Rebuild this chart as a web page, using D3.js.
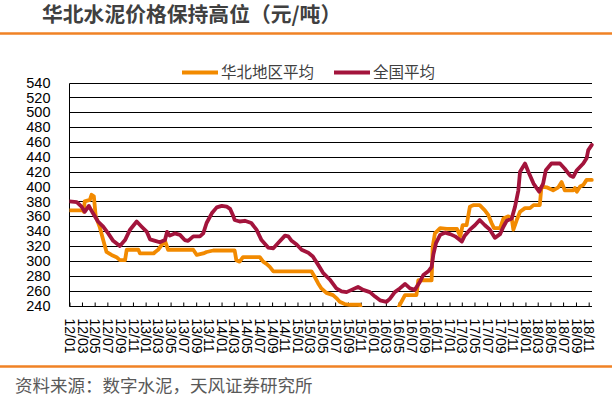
<!DOCTYPE html>
<html><head><meta charset="utf-8">
<script src="https://cdn.jsdelivr.net/npm/d3@7"></script>
<style>body{margin:0;background:#fff}</style>
</head><body><svg id="c" width="612" height="401"></svg>
<script>
const titleText = "华北水泥价格保持高位（元/吨）";
const sourceText = "资料来源：数字水泥，天风证券研究所";
const seriesNames = ["华北地区平均", "全国平均"];
const yTicks = [240,260,280,300,320,340,360,380,400,420,440,460,480,500,520,540];

const northDates = ["2012-01-01","2012-03-06","2012-03-10","2012-03-14","2012-04-08","2012-04-16","2012-04-27","2012-05-06","2012-05-25","2012-06-11","2012-06-27","2012-07-21","2012-08-14","2012-08-30","2012-09-24","2012-10-02","2012-11-27","2012-12-05","2013-02-08","2013-02-16","2013-03-02","2013-03-18","2013-04-04","2013-04-19","2013-08-18","2013-09-04","2013-10-05","2013-10-21","2013-11-22","2014-03-05","2014-03-13","2014-03-29","2014-04-14","2014-07-04","2014-07-20","2014-08-05","2014-08-21","2014-09-07","2015-03-09","2015-03-24","2015-04-10","2015-04-26","2015-05-20","2015-06-21","2015-07-07","2015-07-23","2015-08-16","2015-09-10","2015-10-28","2015-11-07","2016-04-23","2016-05-07","2016-06-01","2016-07-26","2016-08-04","2016-10-07","2016-10-12","2016-10-23","2016-11-17","2016-12-19","2017-02-06","2017-02-22","2017-03-05","2017-03-24","2017-04-09","2017-04-25","2017-05-26","2017-06-20","2017-07-06","2017-07-22","2017-08-03","2017-09-01","2017-09-17","2017-10-11","2017-10-27","2017-11-04","2017-11-20","2017-12-06","2017-12-30","2018-01-23","2018-02-09","2018-03-11","2018-03-19","2018-04-13","2018-05-14","2018-06-08","2018-06-24","2018-07-09","2018-08-19","2018-08-27","2018-09-05","2018-09-21","2018-10-06","2018-10-22","2018-11-16"];
const northValues = [368,368,366,380,382,389,387,360,346,328,312,308,305,301,301,315,315,310,310,312,315,321,327,315,315,308,310,312,314,314,301,299,305,305,299,296,292,286,286,279,270,263,257,254,250,245,242,241,241,232,232,241,254,254,274,274,319,337,344,343,343,333,348,348,373,375,375,368,362,351,344,344,357,360,357,342,355,366,371,371,375,375,400,399,395,399,406,395,395,398,393,400,402,409,409];

const nationDates = ["2012-01-01","2012-02-05","2012-02-28","2012-03-14","2012-04-03","2012-04-23","2012-05-17","2012-06-11","2012-07-05","2012-07-29","2012-08-30","2012-09-24","2012-10-18","2012-11-19","2012-12-13","2013-01-07","2013-01-22","2013-02-16","2013-03-10","2013-04-04","2013-04-14","2013-04-27","2013-05-21","2013-06-15","2013-07-08","2013-07-24","2013-08-18","2013-09-19","2013-10-05","2013-10-21","2013-11-15","2013-12-09","2014-01-02","2014-01-26","2014-02-11","2014-02-27","2014-03-05","2014-03-29","2014-04-23","2014-05-24","2014-06-18","2014-07-12","2014-08-13","2014-09-07","2014-09-30","2014-11-02","2014-11-18","2014-12-04","2014-12-28","2015-01-21","2015-02-22","2015-03-16","2015-04-10","2015-05-04","2015-06-05","2015-07-07","2015-08-01","2015-08-25","2015-09-18","2015-10-19","2015-11-13","2015-12-15","2016-01-09","2016-02-02","2016-03-04","2016-03-20","2016-04-13","2016-05-07","2016-06-01","2016-06-25","2016-07-18","2016-08-12","2016-08-28","2016-09-21","2016-10-07","2016-10-15","2016-10-28","2016-11-17","2016-12-10","2017-01-04","2017-01-28","2017-03-01","2017-03-15","2017-04-09","2017-05-03","2017-05-26","2017-06-20","2017-07-14","2017-08-07","2017-09-01","2017-09-17","2017-10-03","2017-10-27","2017-11-12","2017-11-28","2017-12-06","2017-12-30","2018-01-15","2018-02-09","2018-03-08","2018-03-27","2018-04-09","2018-05-06","2018-06-16","2018-07-09","2018-08-03","2018-08-19","2018-09-05","2018-10-06","2018-10-22","2018-10-30","2018-11-16"];
const nationValues = [380,379,373,366,374,364,353,346,337,327,320,328,342,353,346,339,329,327,325,328,339,334,337,335,328,327,333,333,337,351,364,372,374,373,370,360,355,353,354,351,342,328,318,317,324,334,333,327,322,315,311,306,295,284,275,263,259,258,261,265,261,258,252,247,245,249,258,263,269,263,261,272,281,286,292,308,324,335,338,336,333,326,334,342,348,355,348,342,331,336,346,354,357,373,395,420,431,420,404,393,404,422,431,431,424,415,413,422,431,438,449,456];

const colors = ["#F28A00", "#A3143C"];
const parse = d3.timeParse("%Y-%m-%d");
const svg = d3.select("#c");
const cjk = "'Noto Sans CJK SC', 'Noto Sans', sans-serif";
const num = "'Liberation Sans', Arial, sans-serif";

// header / footer
svg.append("text").attr("x", 42).attr("y", 22).text(titleText)
  .attr("font-family", cjk).attr("font-size", 20.8).attr("font-weight", "bold").attr("fill", "#404040");
svg.append("line").attr("x1", 0).attr("x2", 612).attr("y1", 33.5).attr("y2", 33.5)
  .attr("stroke", "#F08225").attr("stroke-width", 2.5);
svg.append("line").attr("x1", 0).attr("x2", 612).attr("y1", 366.5).attr("y2", 366.5)
  .attr("stroke", "#F08225").attr("stroke-width", 2.5);
svg.append("text").attr("x", 15).attr("y", 392).text(sourceText)
  .attr("font-family", cjk).attr("font-size", 17.5).attr("fill", "#595959");

const pL = 69.5, pR = 592, pT = 82.5, pB = 305.5;
const x = d3.scaleTime().domain([parse("2012-01-01"), parse("2018-11-17")]).range([pL, pR]);
const y = d3.scaleLinear().domain([240, 540]).range([pB, pT]);

// gridlines
svg.append("g").selectAll("line").data(yTicks).join("line")
  .attr("x1", pL).attr("x2", pR)
  .attr("y1", d => Math.round(y(d)) + 0.5).attr("y2", d => Math.round(y(d)) + 0.5)
  .attr("stroke", "#000").attr("stroke-width", 1);
svg.append("line").attr("x1", pL).attr("x2", pL).attr("y1", Math.round(y(540)) + 0.5).attr("y2", Math.round(y(240)) + 0.5)
  .attr("stroke", "#000").attr("stroke-width", 1);

// y labels
const yAxis = svg.append("g").attr("transform", `translate(${pL},0)`)
  .call(d3.axisLeft(y).tickValues(yTicks).tickSize(0).tickPadding(19).tickFormat(d3.format("d")));
yAxis.select(".domain").remove();
yAxis.selectAll("text").attr("font-family", num).attr("font-size", 14.5).attr("fill", "#000");

// x axis
const xTicks = d3.timeMonth.every(2).range(parse("2012-01-01"), parse("2018-11-02"));
const xAxis = svg.append("g").attr("transform", `translate(0,${Math.round(y(240)) + 0.5})`)
  .call(d3.axisBottom(x).tickValues(xTicks).tickSizeInner(-4).tickSizeOuter(0).tickFormat(d3.timeFormat("%y/%m")));
xAxis.select(".domain").remove();
xAxis.selectAll(".tick line").attr("stroke", "#000");
xAxis.selectAll("text")
  .attr("transform", "rotate(90)").attr("x", 12).attr("y", 0).attr("dy", "0.35em")
  .style("text-anchor", "start").attr("font-family", num).attr("font-size", 14).attr("fill", "#000");

// clip
svg.append("clipPath").attr("id", "clip").append("rect")
  .attr("x", pL).attr("y", pT - 3).attr("width", pR - pL + 3).attr("height", pB - pT + 4.5);

const line = d3.line().x(d => x(d[0])).y(d => y(d[1]));
const series = [
  northDates.map((d, i) => [parse(d), northValues[i]]),
  nationDates.map((d, i) => [parse(d), nationValues[i]])
];
const g = svg.append("g").attr("clip-path", "url(#clip)");
series.forEach((s, i) => {
  g.append("path").attr("d", line(s)).attr("fill", "none")
    .attr("stroke", colors[i]).attr("stroke-width", 3.8)
    .attr("stroke-linejoin", "round").attr("stroke-linecap", "round");
});

// legend
const legendX = [182, 334];
seriesNames.forEach((n, i) => {
  svg.append("line").attr("x1", legendX[i]).attr("x2", legendX[i] + 36).attr("y1", 72.5).attr("y2", 72.5)
    .attr("stroke", colors[i]).attr("stroke-width", 4);
  svg.append("text").attr("x", legendX[i] + 39).attr("y", 77.5).text(n)
    .attr("font-family", cjk).attr("font-size", 15.5).attr("fill", "#404040");
});
</script></body></html>
